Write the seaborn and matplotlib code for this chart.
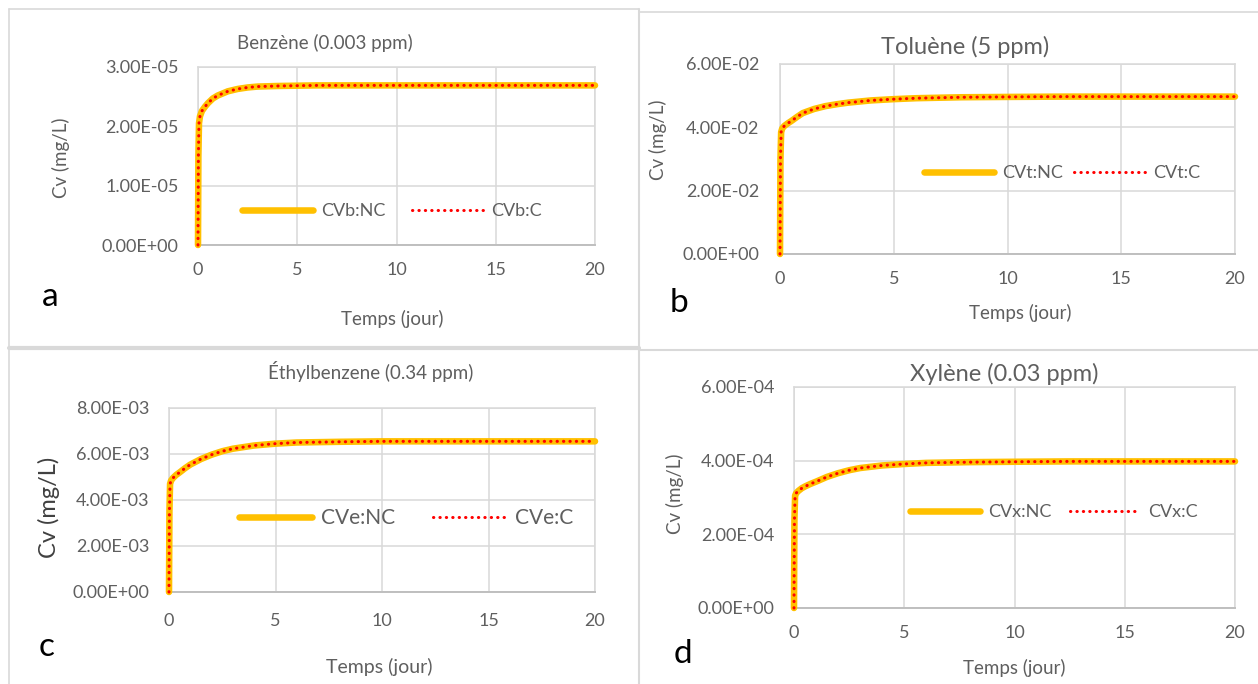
import matplotlib
matplotlib.use("Agg")
import matplotlib.pyplot as plt
import seaborn as sns
import pandas as pd
from matplotlib.lines import Line2D
from matplotlib.ticker import MultipleLocator, FuncFormatter

# temps (jour), shared by the four panels
temps = [0, 0.02, 0.05, 0.1, 0.2, 0.35, 0.5, 0.75, 1, 1.5, 2, 2.5, 3, 4, 5, 6, 8, 10, 12.5, 15, 17.5, 20]

# concentrations (mg/L)
cvb_nc = [0, 1.5e-5, 2.05e-5, 2.17e-5, 2.26e-5, 2.33e-5, 2.39e-5, 2.47e-5, 2.52e-5, 2.59e-5, 2.63e-5,
          2.655e-5, 2.67e-5, 2.68e-5, 2.685e-5, 2.69e-5, 2.69e-5, 2.69e-5, 2.69e-5, 2.69e-5, 2.69e-5, 2.69e-5]
cvb_c = list(cvb_nc)
cvt_nc = [0, 3.0e-2, 3.85e-2, 3.97e-2, 4.05e-2, 4.13e-2, 4.2e-2, 4.33e-2, 4.45e-2, 4.58e-2, 4.67e-2,
          4.73e-2, 4.78e-2, 4.85e-2, 4.89e-2, 4.92e-2, 4.95e-2, 4.96e-2, 4.97e-2, 4.97e-2, 4.97e-2, 4.97e-2]
cvt_c = list(cvt_nc)
cve_nc = [0, 3.5e-3, 4.7e-3, 4.85e-3, 4.97e-3, 5.1e-3, 5.2e-3, 5.38e-3, 5.54e-3, 5.78e-3, 5.97e-3,
          6.12e-3, 6.23e-3, 6.37e-3, 6.45e-3, 6.5e-3, 6.53e-3, 6.55e-3, 6.55e-3, 6.55e-3, 6.55e-3, 6.55e-3]
cve_c = list(cve_nc)
cvx_nc = [0, 2.4e-4, 3.05e-4, 3.12e-4, 3.18e-4, 3.25e-4, 3.3e-4, 3.37e-4, 3.43e-4, 3.56e-4, 3.66e-4,
          3.74e-4, 3.8e-4, 3.87e-4, 3.91e-4, 3.94e-4, 3.96e-4, 3.97e-4, 3.98e-4, 3.98e-4, 3.98e-4, 3.98e-4]
cvx_c = list(cvx_nc)

titles = ["Benzène (0.003 ppm)", "Toluène (5 ppm)", "Éthylbenzene (0.34 ppm)", "Xylène (0.03 ppm)"]
labels_nc = ["CVb:NC", "CVt:NC", "CVe:NC", "CVx:NC"]
labels_c = ["CVb:C", "CVt:C", "CVe:C", "CVx:C"]
letters = ["a", "b", "c", "d"]
ymax = [3e-5, 6e-2, 8e-3, 6e-4]
ystep = [1e-5, 2e-2, 2e-3, 2e-4]
series_nc = [cvb_nc, cvt_nc, cve_nc, cvx_nc]
series_c = [cvb_c, cvt_c, cve_c, cvx_c]

sns.set_theme(style="white")
plt.rcParams["font.family"] = ["Lato", "DejaVu Sans"]

W, H = 1258, 684
fig = plt.figure(figsize=(W / 100, H / 100), dpi=100)


def fx(x):
    return x / W


def fy(y):
    return 1 - y / H


grey = "#5f5f5f"
# layout in pixels: axes box (l, t, r, b), title, ylabel, xlabel, letter, legend centre
layout = [
    dict(box=(198, 67, 595, 245), title=(325, 43, 13.5), ylab=(61, 158, 13.5, grey), xlab=(392, 319, 13.5),
         letter=(50, 297), leg=(392, 211, 13, 3.9, 1.5), tick=13, ypad=14, xpad=12),
    dict(box=(780, 64, 1235, 254), title=(965, 47, 17), ylab=(658, 140, 13.5, grey), xlab=(1020, 313, 13.5),
         letter=(679, 303), leg=(1062, 173, 13, 3.9, 0.6), tick=13, ypad=15, xpad=12),
    dict(box=(169, 408, 595, 592), title=(371, 372, 13.5), ylab=(49, 507, 17, "#404040"), xlab=(379, 667, 14),
         letter=(47, 647), leg=(406, 518, 15, 3.5, 1.8), tick=13, ypad=14, xpad=15),
    dict(box=(794, 387, 1235, 608), title=(1004, 374, 17), ylab=(675, 494, 13.5, grey), xlab=(1014, 668, 13.5),
         letter=(683, 654), leg=(1054, 512, 13, 3.9, 1.0), tick=13, ypad=14, xpad=12),
]

for i, lay in enumerate(layout):
    l, t, r, b = lay["box"]
    ax = fig.add_axes([fx(l), fy(b), (r - l) / W, (b - t) / H])
    df = pd.DataFrame({"Temps": temps, "NC": series_nc[i], "C": series_c[i]})
    sns.lineplot(data=df, x="Temps", y="NC", ax=ax, color="#FFC000", lw=4.7,
                 label=labels_nc[i], clip_on=False, zorder=3, solid_capstyle="round")
    sns.lineplot(data=df, x="Temps", y="C", ax=ax, color="#FF0000", lw=2.2,
                 linestyle=(0, (0.1, 2.0)), dash_capstyle="round", label=labels_c[i],
                 clip_on=False, zorder=4)

    ax.set_xlim(0, 20)
    ax.set_ylim(0, ymax[i])
    ax.xaxis.set_major_locator(MultipleLocator(5))
    ax.yaxis.set_major_locator(MultipleLocator(ystep[i]))
    ax.yaxis.set_major_formatter(FuncFormatter(lambda v, p: f"{v:.2E}"))
    ax.grid(True, color="#d9d9d9", lw=1.1)
    ax.set_axisbelow(True)
    for s in ax.spines.values():
        s.set_color("#d9d9d9")
        s.set_linewidth(1.1)
    ax.spines["bottom"].set_color("#bfbfbf")
    ax.spines["bottom"].set_linewidth(1.4)
    ax.tick_params(axis="both", length=0, labelsize=lay["tick"], labelcolor=grey)
    ax.tick_params(axis="y", pad=lay["ypad"])
    ax.tick_params(axis="x", pad=lay["xpad"])

    # title
    cx, cy, fs = lay["title"]
    ax.set_title(titles[i], x=(cx - l) / (r - l), y=(b - cy) / (b - t), va="center",
                 pad=0, fontsize=fs, color=grey)

    # axis labels
    x0, y0, fs, col = lay["ylab"]
    ax.set_ylabel("Cv (mg/L)", fontsize=fs, color=col)
    ax.yaxis.set_label_coords(fx(x0), fy(y0), transform=fig.transFigure)
    ax.yaxis.label.set_va("center")
    x0, y0, fs = lay["xlab"]
    ax.set_xlabel("Temps (jour)", fontsize=fs, color=grey)
    ax.xaxis.set_label_coords(fx(x0), fy(y0), transform=fig.transFigure)
    ax.xaxis.label.set_va("center")

    # legend
    lx, ly, fs, hl, cs = lay["leg"]
    leg = ax.legend(loc="center", bbox_to_anchor=(fx(lx), fy(ly)), bbox_transform=fig.transFigure,
                    ncol=2, frameon=False, fontsize=fs, handlelength=hl, handletextpad=0.45,
                    columnspacing=cs, borderpad=0)
    for txt in leg.get_texts():
        txt.set_color(grey)

    fig.text(fx(lay["letter"][0]), fy(lay["letter"][1]), letters[i], fontsize=24,
             color="black", ha="center", va="center")

# panel frames
frame = "#d9d9d9"
borders = [
    ((9, 9), (9, 349), 1.2), ((9, 9), (639, 9), 1.2), ((639, 9), (639, 684), 1.5),
    ((9, 348), (639, 348), 3.0), ((639, 12), (1258, 12), 1.2), ((639, 350), (1258, 350), 1.5),
    ((9, 349), (9, 684), 1.2),
]
for (x0, y0), (x1, y1), w in borders:
    fig.add_artist(Line2D([fx(x0), fx(x1)], [fy(y0), fy(y1)], transform=fig.transFigure,
                          color=frame, lw=w))

fig.savefig("out.png", dpi=100, facecolor="white")
